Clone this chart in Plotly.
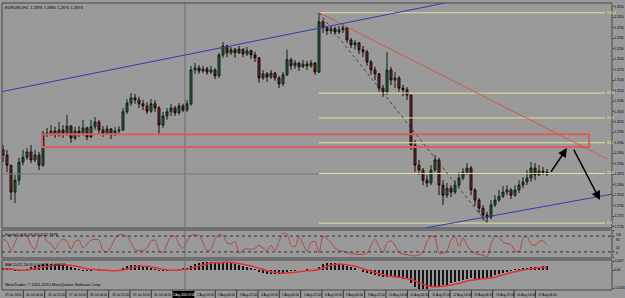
import plotly.graph_objects as go

# ---------------- data ----------------
BAR_HOURS = 3  # each drawn candle summarises ~3 hourly bars

opens = [1.2940, 1.2925, 1.2896, 1.2819, 1.2853, 1.2905, 1.2919, 1.2934, 1.2911, 1.2925,
         1.2896, 1.2988, 1.2985, 1.2994, 1.2983, 1.2997, 1.2988, 1.3008, 1.2974, 1.2994,
         1.2988, 1.3003, 1.2977, 1.3006, 1.3020, 1.2997, 1.2988, 1.3000, 1.2983, 1.2994,
         1.2997, 1.3049, 1.3074, 1.3089, 1.3083, 1.3072, 1.3066, 1.3051, 1.3072, 1.3060,
         1.3011, 1.3037, 1.3049, 1.3060, 1.3046, 1.3066, 1.3054, 1.3072, 1.3169, 1.3175,
         1.3166, 1.3172, 1.3163, 1.3169, 1.3152, 1.3212, 1.3238, 1.3218, 1.3227, 1.3218,
         1.3229, 1.3215, 1.3224, 1.3212, 1.3204, 1.3146, 1.3158, 1.3149, 1.3160, 1.3146,
         1.3129, 1.3155, 1.3198, 1.3181, 1.3189, 1.3178, 1.3186, 1.3181, 1.3189, 1.3163,
         1.3307, 1.3290, 1.3281, 1.3287, 1.3278, 1.3284, 1.3290, 1.3255, 1.3241, 1.3247,
         1.3227, 1.3221, 1.3192, 1.3169, 1.3158, 1.3117, 1.3106, 1.3169, 1.3140, 1.3146,
         1.3117, 1.3112, 1.3097, 1.2954, 1.2896, 1.2882, 1.2853, 1.2845, 1.2882, 1.2911,
         1.2839, 1.2810, 1.2830, 1.2819, 1.2839, 1.2859, 1.2876, 1.2888, 1.2825, 1.2796,
         1.2773, 1.2753, 1.2747, 1.2782, 1.2796, 1.2807, 1.2819, 1.2825, 1.2810, 1.2825,
         1.2839, 1.2848, 1.2859, 1.2888, 1.2868, 1.2879, 1.2876]
highs = [1.2954, 1.2940, 1.2896, 1.2868, 1.2917, 1.2940, 1.2945, 1.2954, 1.2940, 1.2934,
         1.2994, 1.3003, 1.3011, 1.3006, 1.3020, 1.3011, 1.3040, 1.3011, 1.3006, 1.3008,
         1.3026, 1.3006, 1.3026, 1.3034, 1.3026, 1.3008, 1.3011, 1.3003, 1.3006, 1.3008,
         1.3060, 1.3086, 1.3103, 1.3100, 1.3092, 1.3083, 1.3077, 1.3086, 1.3083, 1.3066,
         1.3049, 1.3060, 1.3072, 1.3066, 1.3074, 1.3072, 1.3083, 1.3181, 1.3189, 1.3183,
         1.3181, 1.3178, 1.3181, 1.3175, 1.3218, 1.3249, 1.3241, 1.3235, 1.3232, 1.3238,
         1.3229, 1.3235, 1.3227, 1.3221, 1.3206, 1.3169, 1.3163, 1.3169, 1.3163, 1.3152,
         1.3163, 1.3227, 1.3204, 1.3198, 1.3192, 1.3198, 1.3195, 1.3198, 1.3192, 1.3333,
         1.3313, 1.3295, 1.3295, 1.3293, 1.3295, 1.3301, 1.3293, 1.3261, 1.3255, 1.3249,
         1.3238, 1.3227, 1.3198, 1.3178, 1.3160, 1.3126, 1.3221, 1.3178, 1.3163, 1.3152,
         1.3126, 1.3120, 1.3097, 1.2968, 1.2911, 1.2888, 1.2868, 1.2896, 1.2925, 1.2917,
         1.2853, 1.2845, 1.2839, 1.2853, 1.2876, 1.2888, 1.2902, 1.2894, 1.2830, 1.2802,
         1.2782, 1.2762, 1.2796, 1.2810, 1.2825, 1.2836, 1.2839, 1.2830, 1.2839, 1.2853,
         1.2862, 1.2882, 1.2905, 1.2902, 1.2896, 1.2891, 1.2885]
lows = [1.2905, 1.2876, 1.2796, 1.2787, 1.2839, 1.2896, 1.2911, 1.2902, 1.2905, 1.2882,
        1.2891, 1.2977, 1.2980, 1.2974, 1.2977, 1.2974, 1.2980, 1.2960, 1.2968, 1.2977,
        1.2980, 1.2968, 1.2974, 1.2997, 1.2985, 1.2977, 1.2983, 1.2971, 1.2980, 1.2985,
        1.2994, 1.3043, 1.3066, 1.3072, 1.3060, 1.3054, 1.3043, 1.3046, 1.3049, 1.2983,
        1.3003, 1.3026, 1.3037, 1.3037, 1.3040, 1.3049, 1.3049, 1.3066, 1.3158, 1.3158,
        1.3160, 1.3155, 1.3158, 1.3143, 1.3146, 1.3204, 1.3206, 1.3212, 1.3204, 1.3215,
        1.3206, 1.3209, 1.3201, 1.3192, 1.3132, 1.3140, 1.3135, 1.3143, 1.3138, 1.3117,
        1.3123, 1.3152, 1.3169, 1.3172, 1.3166, 1.3175, 1.3169, 1.3175, 1.3155, 1.3160,
        1.3275, 1.3270, 1.3272, 1.3270, 1.3272, 1.3275, 1.3247, 1.3232, 1.3227, 1.3215,
        1.3206, 1.3181, 1.3155, 1.3140, 1.3106, 1.3092, 1.3097, 1.3126, 1.3117, 1.3106,
        1.3094, 1.3083, 1.2940, 1.2876, 1.2868, 1.2839, 1.2833, 1.2839, 1.2876, 1.2810,
        1.2782, 1.2802, 1.2805, 1.2813, 1.2830, 1.2853, 1.2868, 1.2810, 1.2779, 1.2759,
        1.2739, 1.2730, 1.2741, 1.2776, 1.2790, 1.2802, 1.2810, 1.2799, 1.2805, 1.2816,
        1.2830, 1.2839, 1.2848, 1.2853, 1.2865, 1.2868, 1.2865]
closes = [1.2925, 1.2896, 1.2819, 1.2853, 1.2905, 1.2919, 1.2934, 1.2911, 1.2925, 1.2896,
          1.2988, 1.2985, 1.2994, 1.2983, 1.2997, 1.2988, 1.3008, 1.2974, 1.2994, 1.2988,
          1.3003, 1.2977, 1.3006, 1.3020, 1.2997, 1.2988, 1.3000, 1.2983, 1.2994, 1.2997,
          1.3049, 1.3074, 1.3089, 1.3083, 1.3072, 1.3066, 1.3051, 1.3072, 1.3060, 1.3011,
          1.3037, 1.3049, 1.3060, 1.3046, 1.3066, 1.3054, 1.3072, 1.3169, 1.3175, 1.3166,
          1.3172, 1.3163, 1.3169, 1.3152, 1.3212, 1.3238, 1.3218, 1.3227, 1.3218, 1.3229,
          1.3215, 1.3224, 1.3212, 1.3204, 1.3146, 1.3158, 1.3149, 1.3160, 1.3146, 1.3129,
          1.3155, 1.3198, 1.3181, 1.3189, 1.3178, 1.3186, 1.3181, 1.3189, 1.3163, 1.3307,
          1.3290, 1.3281, 1.3287, 1.3278, 1.3284, 1.3290, 1.3255, 1.3241, 1.3247, 1.3227,
          1.3221, 1.3192, 1.3169, 1.3158, 1.3117, 1.3106, 1.3169, 1.3140, 1.3146, 1.3117,
          1.3112, 1.3097, 1.2954, 1.2896, 1.2882, 1.2853, 1.2845, 1.2882, 1.2911, 1.2839,
          1.2810, 1.2830, 1.2819, 1.2839, 1.2859, 1.2876, 1.2888, 1.2825, 1.2796, 1.2773,
          1.2753, 1.2747, 1.2782, 1.2796, 1.2807, 1.2819, 1.2825, 1.2810, 1.2825, 1.2839,
          1.2848, 1.2859, 1.2888, 1.2868, 1.2879, 1.2876, 1.2871]

stoch_values = [68, 60, 25, 55, 82, 85, 80, 45, 30, 75,
                85, 60, 50, 30, 55, 68, 60, 30, 60, 65,
                35, 50, 65, 68, 65, 25, 20, 40, 70, 85,
                85, 80, 55, 30, 25, 25, 35, 60, 65, 25,
                17, 50, 80, 78, 50, 34, 60, 82, 85, 82,
                55, 25, 30, 70, 85, 82, 55, 50, 60, 15,
                28, 32, 30, 34, 45, 35, 23, 45, 25, 60,
                90, 88, 45, 40, 78, 50, 23, 55, 60, 17,
                80, 70, 55, 35, 25, 23, 18, 15, 12, 11,
                11, 15, 45, 68, 40, 17, 55, 62, 45, 17,
                12, 10, 6, 5, 8, 20, 60, 80, 75, 15,
                15, 25, 65, 78, 40, 72, 45, 25, 15, 10,
                8, 2, 50, 80, 75, 57, 52, 48, 25, 20,
                70, 78, 50, 45, 60, 62, 45]

macd_hist = [0.0006, 0.0005, 0.0001, -0.0003, -0.0003, -0.0001, 0.0003, 0.0008, 0.0012, 0.0014,
             0.0017, 0.0018, 0.0019, 0.0018, 0.0016, 0.0015, 0.0013, 0.0010, 0.0006, 0.0002,
             -0.0001, -0.0002, -0.0002, 0.0000, 0.0001, -0.0001, -0.0002, -0.0003, -0.0002, 0.0000,
             0.0006, 0.0011, 0.0015, 0.0016, 0.0015, 0.0012, 0.0008, 0.0004, 0.0001, -0.0002,
             -0.0003, -0.0002, -0.0001, 0.0000, 0.0002, 0.0004, 0.0005, 0.0012, 0.0018, 0.0021,
             0.0023, 0.0024, 0.0024, 0.0023, 0.0024, 0.0024, 0.0022, 0.0020, 0.0018, 0.0016,
             0.0013, 0.0010, 0.0006, 0.0002, -0.0004, -0.0008, -0.0011, -0.0012, -0.0012, -0.0012,
             -0.0010, -0.0006, -0.0003, -0.0001, 0.0000, 0.0000, 0.0001, 0.0000, -0.0001, 0.0010,
             0.0017, 0.0021, 0.0022, 0.0021, 0.0019, 0.0016, 0.0012, 0.0008, 0.0004, 0.0000,
             -0.0004, -0.0008, -0.0012, -0.0015, -0.0019, -0.0022, -0.0021, -0.0021, -0.0022, -0.0024,
             -0.0026, -0.0028, -0.0040, -0.0050, -0.0056, -0.0058, -0.0056, -0.0052, -0.0048, -0.0047,
             -0.0046, -0.0044, -0.0040, -0.0036, -0.0032, -0.0029, -0.0026, -0.0025, -0.0026, -0.0026,
             -0.0025, -0.0024, -0.0020, -0.0016, -0.0012, -0.0008, -0.0004, -0.0001, 0.0001, 0.0002,
             0.0004, 0.0006, 0.0008, 0.0009, 0.0010, 0.0011, 0.0011]

MACD_SIGNAL_STEP = 6  # hours between read points of the signal line
macd_signal = [0.0004, 0.0003, 0.0000, 0.0000, 0.0004, 0.0009, 0.0013, 0.0016, 0.0015, 0.0012,
               0.0006, 0.0002, 0.0000, -0.0001, -0.0002, 0.0000, 0.0006, 0.0011, 0.0011, 0.0007,
               0.0002, -0.0001, 0.0000, 0.0003, 0.0009, 0.0015, 0.0020, 0.0022, 0.0023, 0.0021,
               0.0017, 0.0012, 0.0005, -0.0002, -0.0007, -0.0010, -0.0008, -0.0005, -0.0002, -0.0001,
               0.0006, 0.0014, 0.0018, 0.0016, 0.0011, 0.0004, -0.0004, -0.0011, -0.0017, -0.0020,
               -0.0023, -0.0028, -0.0038, -0.0047, -0.0050, -0.0049, -0.0045, -0.0040, -0.0033, -0.0029,
               -0.0026, -0.0024, -0.0018, -0.0011, -0.0005, 0.0000, 0.0004, 0.0007, 0.0009]

# bottom time scale; the label hidden under the black crosshair date box is left blank
time_labels = ["23 Jul 2010", "26 Jul 06:00", "26 Jul 22:00", "27 Jul 14:00", "28 Jul 06:00",
               "28 Jul 22:00", "29 Jul 14:00", "30 Jul 06:00", "", "2 Aug 14:00",
               "3 Aug 06:00", "3 Aug 22:00", "4 Aug 14:00", "5 Aug 06:00", "5 Aug 22:00",
               "6 Aug 14:00", "9 Aug 06:00", "9 Aug 22:00", "10 Aug 14:00", "11 Aug 06:00",
               "11 Aug 22:00", "12 Aug 14:00", "13 Aug 06:00", "13 Aug 22:00", "16 Aug 14:00",
               "17 Aug 06:00"]
LABEL_EVERY_HOURS = 16
cross_date_label = "2 Aug 2010 07:00"

price_ticks = [1.2720, 1.2750, 1.2780, 1.2810, 1.2840, 1.2870, 1.2900, 1.2930, 1.2960,
               1.2990, 1.3020, 1.3050, 1.3080, 1.3110, 1.3140, 1.3170, 1.3200, 1.3230,
               1.3260, 1.3290, 1.3320, 1.3350]

stoch_ticks = [100, 80, 20, 0]
macd_ticks = [0.0027, 0.0, -0.0054]
macd_tick_text = ["0.0027", "0.00", "-0.0054"]

fib_ratios = [0.0, 0.236, 0.382, 0.5, 0.618, 1.0]
fib_names = ["0.0", "23.6", "38.2", "50.0", "61.8", "100.0"]

# hand-drawn objects on the chart (time in hours from first bar, price)
zone_time = [29.25, 439.5]
zone_price = [1.2948, 1.2985]
red_ray_time = [237.0, 453.0]
red_ray_price = [1.3333, 1.2914]
blue_upper_time = [-0.75, 331.5]
blue_upper_price = [1.3107, 1.3361]
blue_lower_time = [316.5, 456.75]
blue_lower_price = [1.2716, 1.2813]
arrow_up_time = [410.25, 423.0]
arrow_up_price = [1.2873, 1.2945]
arrow_down_time = [427.5, 447.75]
arrow_down_price = [1.2945, 1.2796]
cross_time = 136.5
cross_price = 1.2871
cross_box_time = [127.5, 143.25]
fib_end_time = 451.5

# ---------------- layout helpers ----------------
BG = "#9a9a9a"
FRAME = "#474747"
FONT = "Liberation Sans"
W, H = 625, 298
ML, MR, MT, MB = 2, 13, 3, 8
PH = H - MT - MB
X_RANGE = [-0.75, 456.75]


def dom(top_px, bot_px):
    return [(H - MB - bot_px) / PH, (H - MB - top_px) / PH]


def py(px):
    return (H - MB - px) / PH


main_dom = dom(3, 228)
stoch_dom = dom(230, 258)
macd_dom = dom(260, 290)

hours = [BAR_HOURS * i for i in range(len(closes))]
sig_hours = [MACD_SIGNAL_STEP * i for i in range(len(macd_signal))]

fib_high = max(highs)
fib_low = min(lows)
fib_start = hours[highs.index(fib_high)]
fib_low_time = hours[lows.index(fib_low)]

fig = go.Figure()

fig.add_trace(go.Candlestick(
    x=hours, open=opens, high=highs, low=lows, close=closes,
    xaxis="x", yaxis="y", whiskerwidth=0,
    increasing=dict(line=dict(color="#0c2414", width=1), fillcolor="#2f5a3b"),
    decreasing=dict(line=dict(color="#1e0808", width=1), fillcolor="#6e2a2a"),
    showlegend=False, hoverinfo="skip"))

fig.add_trace(go.Scatter(
    x=hours, y=stoch_values, xaxis="x2", yaxis="y2", mode="lines",
    line=dict(color="#b54848", width=1, shape="spline", smoothing=0.8),
    showlegend=False, hoverinfo="skip"))

fig.add_trace(go.Bar(
    x=hours, y=macd_hist, xaxis="x3", yaxis="y3", width=2.0,
    marker=dict(color="#141414", line=dict(width=0)),
    showlegend=False, hoverinfo="skip"))

fig.add_trace(go.Scatter(
    x=sig_hours, y=macd_signal, xaxis="x3", yaxis="y3", mode="lines",
    line=dict(color="#e03232", width=1.5, shape="spline", smoothing=0.8),
    showlegend=False, hoverinfo="skip"))

shapes = []
# panel frames
for d in (main_dom, stoch_dom, macd_dom):
    shapes.append(dict(type="rect", xref="paper", yref="paper", x0=0, x1=1, y0=d[0], y1=d[1],
                       line=dict(color=FRAME, width=1), layer="above"))
# crosshair
shapes.append(dict(type="line", xref="x", yref="paper", x0=cross_time, x1=cross_time, y0=0, y1=1,
                   line=dict(color="#6c6c6c", width=1)))
shapes.append(dict(type="line", xref="x", yref="y", x0=X_RANGE[0], x1=fib_start,
                   y0=cross_price, y1=cross_price, line=dict(color="#787878", width=1)))
# fibonacci levels
for r in fib_ratios:
    lvl = fib_low + r * (fib_high - fib_low)
    shapes.append(dict(type="line", xref="x", yref="y", x0=fib_start, x1=fib_end_time,
                       y0=lvl, y1=lvl, line=dict(color="#e2e29a", width=1)))
# fib baseline
shapes.append(dict(type="line", xref="x", yref="y", x0=fib_start, x1=fib_low_time,
                   y0=fib_high, y1=fib_low, line=dict(color="#2b2b2b", width=0.8, dash="dot")))
# zone rectangle
shapes.append(dict(type="rect", xref="x", yref="y", x0=zone_time[0], x1=zone_time[1],
                   y0=zone_price[0], y1=zone_price[1], line=dict(color="#df5b5b", width=2)))
# trendlines
shapes.append(dict(type="line", xref="x", yref="y", x0=red_ray_time[0], x1=red_ray_time[1],
                   y0=red_ray_price[0], y1=red_ray_price[1], line=dict(color="#d45a4f", width=1)))
shapes.append(dict(type="line", xref="x", yref="y", x0=blue_upper_time[0], x1=blue_upper_time[1],
                   y0=blue_upper_price[0], y1=blue_upper_price[1], line=dict(color="#3a3ab0", width=1)))
shapes.append(dict(type="line", xref="x", yref="y", x0=blue_lower_time[0], x1=blue_lower_time[1],
                   y0=blue_lower_price[0], y1=blue_lower_price[1], line=dict(color="#3a3ab0", width=1)))
# stochastic levels
for lv in (80, 20):
    shapes.append(dict(type="line", xref="paper", yref="y2", x0=0, x1=1, y0=lv, y1=lv,
                       line=dict(color="#333333", width=1, dash="dot")))
# time scale separators
label_pos = [LABEL_EVERY_HOURS * k + X_RANGE[0] for k in range(len(time_labels))]
for xp in label_pos[1:]:
    shapes.append(dict(type="line", xref="x", yref="paper", x0=xp, x1=xp,
                       y0=py(298), y1=py(290), line=dict(color="#3a3a3a", width=1)))
# time axis crosshair label box
shapes.append(dict(type="rect", xref="x", yref="paper", x0=cross_box_time[0], x1=cross_box_time[1],
                   y0=py(298), y1=py(291), fillcolor="#000000", line=dict(width=0)))

annotations = []
tiny = dict(family=FONT, size=4, color="#000000")
annotations.append(dict(xref="paper", yref="paper", x=0.002, y=1.0, xanchor="left", yanchor="top",
                        text="EURUSD,H1  1.2876 1.2880 1.2870 1.2873", showarrow=False, font=tiny))
annotations.append(dict(xref="paper", yref="paper", x=0.002, y=stoch_dom[1], xanchor="left",
                        yanchor="top", text="Stoch(5,3,3) 33.4551 32.7876", showarrow=False, font=tiny))
annotations.append(dict(xref="paper", yref="paper", x=0.002, y=macd_dom[1], xanchor="left",
                        yanchor="top", text="MACD(12,26,9) 0.00028 -0.00022", showarrow=False, font=tiny))
annotations.append(dict(xref="paper", yref="paper", x=0.002, y=macd_dom[0] + 0.004, xanchor="left",
                        yanchor="bottom", text="MetaTrader, © 2001-2010 MetaQuotes Software Corp.",
                        showarrow=False, font=tiny))
annotations.append(dict(xref="x", yref="paper", x=(cross_box_time[0] + cross_box_time[1]) / 2,
                        y=py(294.5), xanchor="center", yanchor="middle", text=cross_date_label,
                        showarrow=False, font=dict(family=FONT, size=2.8, color="#ffffff")))
for xp, lab in zip(label_pos, time_labels):
    if lab:
        annotations.append(dict(xref="x", yref="paper", x=xp, y=py(294.5), xanchor="left",
                                yanchor="middle", xshift=1, text=lab, showarrow=False,
                                font=dict(family=FONT, size=3.2, color="#000000")))
for r, name in zip(fib_ratios, fib_names):
    lvl = fib_low + r * (fib_high - fib_low)
    annotations.append(dict(xref="x", yref="y", x=fib_end_time, y=lvl, xanchor="left",
                            yanchor="middle", text=name, showarrow=False,
                            font=dict(family=FONT, size=3.5, color="#e8e88a")))
for t, p in ((arrow_up_time, arrow_up_price), (arrow_down_time, arrow_down_price)):
    annotations.append(dict(xref="x", yref="y", axref="x", ayref="y", x=t[1], y=p[1],
                            ax=t[0], ay=p[0], text="", showarrow=True, arrowhead=2,
                            arrowsize=1.2, arrowwidth=1.5, arrowcolor="#000000"))
# stochastic scale labels (as text so the close pairs can be nudged apart)
stoch_anchor = {100: "top", 80: "top", 20: "bottom", 0: "bottom"}
for v in stoch_ticks:
    annotations.append(dict(xref="paper", yref="y2", x=1.003, y=v, xanchor="left",
                            yanchor=stoch_anchor[v], text=str(v), showarrow=False,
                            font=dict(family=FONT, size=3, color="#000000")))

axis_common = dict(range=X_RANGE, showgrid=False, zeroline=False, showline=False,
                   domain=[0, 1], fixedrange=True, automargin=False)
yaxis_common = dict(showgrid=False, zeroline=False, showline=False, side="right",
                    ticks="outside", ticklen=1, tickcolor="#222222", automargin=False,
                    tickfont=dict(family=FONT, size=3, color="#000000"), fixedrange=True)

fig.update_layout(
    template="none",
    width=W, height=H,
    margin=dict(l=ML, r=MR, t=MT, b=MB, pad=0, autoexpand=False),
    paper_bgcolor=BG, plot_bgcolor=BG,
    showlegend=False, bargap=0,
    xaxis=dict(axis_common, anchor="y", showticklabels=False, ticks="",
               rangeslider=dict(visible=False)),
    xaxis2=dict(axis_common, anchor="y2", showticklabels=False, ticks=""),
    xaxis3=dict(axis_common, anchor="y3", showticklabels=False, ticks=""),
    yaxis=dict(yaxis_common, domain=main_dom, anchor="x", range=[1.2716, 1.3361],
               tickvals=price_ticks, tickformat=".4f"),
    yaxis2=dict(yaxis_common, domain=stoch_dom, anchor="x2", range=[-3, 103],
                tickvals=stoch_ticks, showticklabels=False),
    yaxis3=dict(yaxis_common, domain=macd_dom, anchor="x3", range=[-0.0060, 0.0030],
                tickvals=macd_ticks, ticktext=macd_tick_text),
    shapes=shapes, annotations=annotations,
)

fig.write_html("out.html")
